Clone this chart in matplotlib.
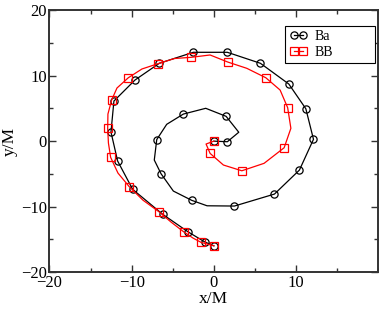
import matplotlib
matplotlib.use("Agg")
import matplotlib.pyplot as plt
from matplotlib.ticker import MultipleLocator, FixedLocator

# Ba trajectory (line vertices) and which vertices carry markers
ba_x = [0.0, 1.64, 3.03, 1.49, -0.99, -3.71, -5.74, -6.95, -7.25, -6.43, -4.93,
        -2.69, -0.83, 2.50, 7.37, 10.41, 12.12, 11.19, 9.12, 5.66, 1.64, -2.50,
        -6.64, -9.60, -12.16, -12.52, -11.71, -9.88, -6.22, -3.11, -1.07, 0.0]
ba_y = [0.0, -0.09, 1.36, 3.79, 5.02, 4.14, 2.57, 0.24, -2.89, -4.98, -7.63,
        -9.05, -9.88, -9.92, -8.09, -4.42, 0.28, 4.95, 8.73, 11.90, 13.58, 13.58,
        11.90, 9.34, 6.13, 1.39, -3.04, -7.37, -11.19, -13.89, -15.43, -16.0]
ba_marks = [0, 1, 3, 5, 7, 9, 11] + list(range(13, 32))

# BB trajectory
bb_x = [0.0, -0.95, -0.46, 1.16, 3.40, 6.11, 8.55, 9.37, 8.98, 8.06, 6.32,
        4.01, 1.69, -0.46, -2.78, -4.79, -6.79, -8.75, -10.41, -11.79, -12.44,
        -12.89, -12.92, -12.83, -12.56, -11.67, -10.29, -8.62, -6.67, -5.21,
        -3.63, -2.53, -1.56, 0.0]
bb_y = [0.0, -0.44, -1.87, -3.65, -4.53, -3.39, -1.01, 1.96, 5.11, 7.81, 9.69,
        11.13, 12.09, 13.17, 12.81, 12.63, 11.84, 11.03, 9.69, 8.12, 6.28,
        4.14, 1.96, -0.29, -2.48, -4.88, -6.97, -9.03, -10.80, -12.37,
        -13.90, -14.82, -15.47, -16.0]
bb_marks = [0, 2, 4, 6, 8, 10, 12, 14, 16, 18, 20, 22, 24, 26, 28, 30, 32, 33]

x_ticks = [-20, -10, 0, 10]
y_ticks = [-20, -10, 0, 10, 20]
x_label = "x/M"
y_label = "y/M"

plt.rcParams['font.family'] = ['Liberation Serif', 'DejaVu Serif']

fig = plt.figure(figsize=(3.79, 3.10), dpi=100)
ax = fig.add_axes([0.1306, 0.1226, 0.998 - 0.1306, 0.9668 - 0.1226])

ax.plot(ba_x, ba_y, color='black', lw=0.9, marker='o', markersize=5.2,
        markerfacecolor='none', markeredgecolor='black', markeredgewidth=0.9,
        markevery=ba_marks, label='Ba')
ax.plot(bb_x, bb_y, color='#ff0000', lw=0.9, marker='s', markersize=5.6,
        markerfacecolor='none', markeredgecolor='#ff0000', markeredgewidth=0.9,
        markevery=bb_marks, label='BB')

ax.set_xlim(-20, 20)
ax.set_ylim(-20, 20)
ax.xaxis.set_major_locator(FixedLocator(x_ticks))
ax.yaxis.set_major_locator(FixedLocator(y_ticks))
ax.xaxis.set_minor_locator(MultipleLocator(5))
ax.yaxis.set_minor_locator(MultipleLocator(5))
ax.tick_params(which='both', direction='in', top=True, right=True,
               labelsize=12, pad=2, color='#333333')
ax.tick_params(which='major', length=5, width=1)
ax.tick_params(which='minor', length=3, width=1)
for s in ax.spines.values():
    s.set_linewidth(1.4)
    s.set_color('#333333')

ax.set_xlabel(x_label, fontsize=12.5, labelpad=0)
ax.set_ylabel(y_label, fontsize=12.5, labelpad=2)

leg = ax.legend(loc='upper left', bbox_to_anchor=(0.717, 0.813, 0.274, 0.127),
                mode='expand', fontsize=10, numpoints=2, handlelength=1.3,
                handletextpad=0.5, borderpad=0.3, labelspacing=0.2,
                fancybox=False, framealpha=1, edgecolor='black',
                borderaxespad=0)
leg.get_frame().set_linewidth(0.8)

fig.savefig('out.png', dpi=100)
